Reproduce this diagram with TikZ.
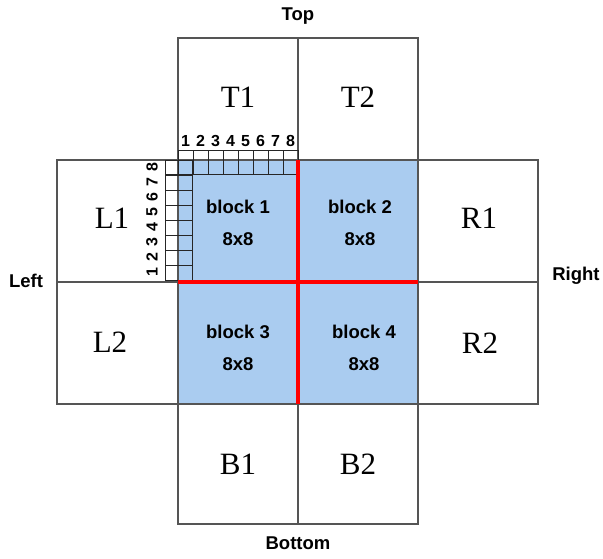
\documentclass[tikz,border=0pt]{standalone}
\usepackage{fontspec}
\setmainfont{Liberation Serif}
\setsansfont{Liberation Sans}
\definecolor{blockblue}{RGB}{170,204,240}
\definecolor{linegray}{RGB}{85,85,85}
\begin{document}
\begin{tikzpicture}[x=1pt,y=-1pt,
  cellline/.style={draw=linegray,line width=1.3pt},
  gridline/.style={draw=black!85,line width=0.9pt},
  edgeline/.style={draw=red,line width=4pt},
  big/.style={font=\fontsize{31}{31}\selectfont},
  blk/.style={font=\sffamily\bfseries\fontsize{18.5}{32}\selectfont,align=center},
  side/.style={font=\sffamily\bfseries\fontsize{18.5}{18.5}\selectfont},
  num/.style={font=\sffamily\bfseries\fontsize{16}{16}\selectfont,inner sep=0pt}]
\useasboundingbox (0,0) rectangle (603,558);
\fill[white] (0,0) rectangle (603,558);
\fill[blockblue] (178,160) rectangle (418,404);
% cells
\draw[cellline] (178,38) rectangle (298,160);
\draw[cellline] (298,38) rectangle (418,160);
\draw[cellline] (57,160) rectangle (178,282);
\draw[cellline] (57,282) rectangle (178,404);
\draw[cellline] (418,160) rectangle (538,282);
\draw[cellline] (418,282) rectangle (538,404);
\draw[cellline] (178,404) rectangle (298,524);
\draw[cellline] (298,404) rectangle (418,524);
\draw[cellline] (178,160) rectangle (418,404);
% pixel grid
\draw[gridline] (178,150) -- (298,150);
\foreach \i in {0,...,8} {
  \draw[gridline] (178+15*\i,150) -- (178+15*\i,174);
  \draw[gridline] (165,160+15*\i) -- (192,160+15*\i);
}
\draw[gridline] (165,174) -- (298,174);
\draw[gridline] (165,160) -- (165,280);
\draw[gridline] (192,160) -- (192,280);
% numbers
\foreach \i in {1,...,8} {
  \node[num] (n\i) at (178+15*\i-7.5,141) {\i};
  \node[num,rotate=90] (m\i) at (152,280-15*\i+7.5) {\i};
}
% red edges
\draw[edgeline] (298,160) -- (298,404);
\draw[edgeline] (178,282) -- (418,282);
% labels
\node[big] (T1) at (238,97) {T1};
\node[big] (T2) at (358,97) {T2};
\node[big] (L1) at (112,218) {L1};
\node[big] (L2) at (110,342) {L2};
\node[big] (R1) at (479,218) {R1};
\node[big] (R2) at (480,343) {R2};
\node[big] (B1) at (238,464) {B1};
\node[big] (B2) at (358,464) {B2};
\node[blk] (blk1) at (238,223) {block 1\\8x8};
\node[blk] (blk2) at (360,223) {block 2\\8x8};
\node[blk] (blk3) at (238,348) {block 3\\8x8};
\node[blk] (blk4) at (364,348) {block 4\\8x8};
\node[side] (top) at (298,16) {Top};
\node[side] (bottom) at (298,543) {Bottom};
\node[side] (left) at (26,281) {Left};
\node[side] (right) at (576,276) {Right};
\end{tikzpicture}
\end{document}
